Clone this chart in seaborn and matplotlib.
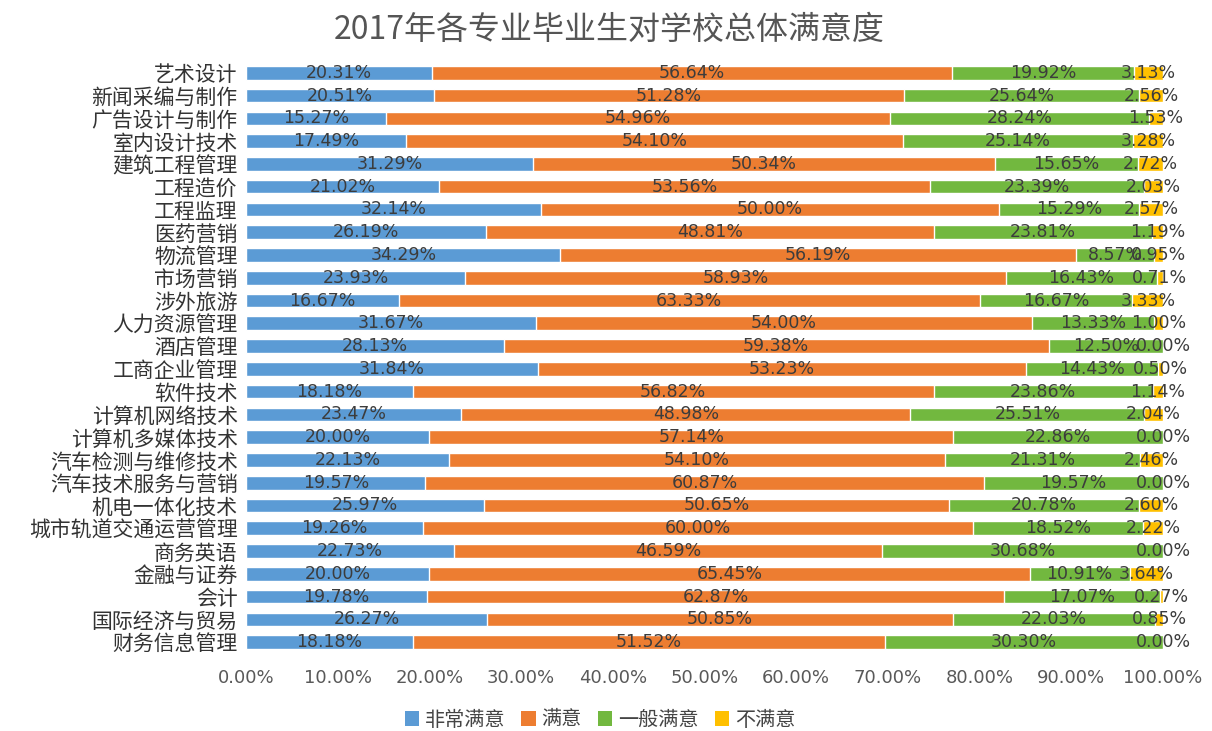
import numpy as np
import pandas as pd
import matplotlib
matplotlib.use('Agg')
import matplotlib.pyplot as plt
import seaborn as sns
from matplotlib.patches import Patch

categories = ['艺术设计', '新闻采编与制作', '广告设计与制作', '室内设计技术', '建筑工程管理',
              '工程造价', '工程监理', '医药营销', '物流管理', '市场营销', '涉外旅游',
              '人力资源管理', '酒店管理', '工商企业管理', '软件技术', '计算机网络技术',
              '计算机多媒体技术', '汽车检测与维修技术', '汽车技术服务与营销', '机电一体化技术',
              '城市轨道交通运营管理', '商务英语', '金融与证券', '会计', '国际经济与贸易', '财务信息管理']
very_satisfied = [20.31, 20.51, 15.27, 17.49, 31.29, 21.02, 32.14, 26.19, 34.29, 23.93, 16.67,
                  31.67, 28.13, 31.84, 18.18, 23.47, 20.00, 22.13, 19.57, 25.97, 19.26, 22.73,
                  20.00, 19.78, 26.27, 18.18]
satisfied = [56.64, 51.28, 54.96, 54.10, 50.34, 53.56, 50.00, 48.81, 56.19, 58.93, 63.33,
             54.00, 59.38, 53.23, 56.82, 48.98, 57.14, 54.10, 60.87, 50.65, 60.00, 46.59,
             65.45, 62.87, 50.85, 51.52]
general = [19.92, 25.64, 28.24, 25.14, 15.65, 23.39, 15.29, 23.81, 8.57, 16.43, 16.67,
           13.33, 12.50, 14.43, 23.86, 25.51, 22.86, 21.31, 19.57, 20.78, 18.52, 30.68,
           10.91, 17.07, 22.03, 30.30]
unsatisfied = [3.13, 2.56, 1.53, 3.28, 2.72, 2.03, 2.57, 1.19, 0.95, 0.71, 3.33,
               1.00, 0.00, 0.50, 1.14, 2.04, 0.00, 2.46, 0.00, 2.60, 2.22, 0.00,
               3.64, 0.27, 0.85, 0.00]
series_names = ['非常满意', '满意', '一般满意', '不满意']
x_ticks = [0, 10, 20, 30, 40, 50, 60, 70, 80, 90, 100]
title = '2017年各专业毕业生对学校总体满意度'

colors = ['#5B9BD5', '#ED7D31', '#72B83F', '#FFC000']

sns.set_theme(style='white')
plt.rcParams['font.family'] = ['Noto Sans CJK SC', 'DejaVu Sans']

fig = plt.figure(figsize=(12.12, 7.31), dpi=100)
ax = fig.add_axes([0.203, 0.106, 0.7566, 0.81])

vals = np.array([very_satisfied, satisfied, general, unsatisfied]).T
cum = np.cumsum(vals, axis=1)

for i in reversed(range(4)):
    df = pd.DataFrame({'专业': categories, 'v': cum[:, i]})
    sns.barplot(data=df, x='v', y='专业', orient='h', color=colors[i],
                saturation=1, width=0.6, ax=ax, errorbar=None)

for i in range(4):
    for j in range(len(categories)):
        c = cum[j, i] - vals[j, i] / 2
        ax.text(c, j, f'{vals[j, i]:.2f}%', ha='center', va='center',
                fontsize=12.5, color='#3c3c3c', family=['DejaVu Sans'])

ax.set_xlim(0, 100)
ax.set_xticks(x_ticks)
ax.set_xticklabels([f'{t:.2f}%' for t in x_ticks], fontsize=13, color='#595959',
                   family=['DejaVu Sans'])
ax.tick_params(axis='x', length=0, pad=11)
ax.tick_params(axis='y', length=0, pad=6, labelsize=15, labelcolor='#333333')
ax.set_xlabel('')
ax.set_ylabel('')
for s in ax.spines.values():
    s.set_visible(False)

fig.text(0.503, 1 - 30 / 731, title, ha='center', va='center', fontsize=23, color='#555555')

handles = [Patch(facecolor=colors[k], edgecolor='none', label=series_names[k]) for k in range(4)]
fig.legend(handles=handles, loc='center', bbox_to_anchor=(0.495, 1 - 720 / 731), ncol=4,
           frameon=False, handlelength=0.7, handleheight=0.7, columnspacing=0.8,
           handletextpad=0.3, fontsize=14.5, labelcolor='#444444')

fig.savefig('out.png', dpi=100)
